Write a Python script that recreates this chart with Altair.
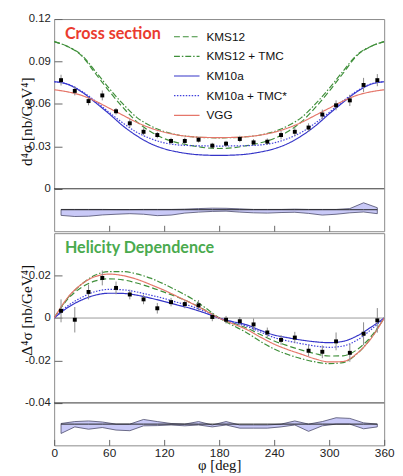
import altair as alt
import pandas as pd

# ---------------- data ----------------
phi_grid = [0, 15, 30, 45, 60, 75, 90, 105, 120, 135, 150, 165, 180,
            195, 210, 225, 240, 255, 270, 285, 300, 315, 330, 345, 360]
phi_bins = [7.5, 22.5, 37.5, 52.5, 67.5, 82.5, 97.5, 112.5, 127.5, 142.5, 157.5, 172.5,
            187.5, 202.5, 217.5, 232.5, 247.5, 262.5, 277.5, 292.5, 307.5, 322.5, 337.5, 352.5]

models = ["KMS12", "KMS12 + TMC", "KM10a", "KM10a + TMC*", "VGG"]
model_colors = ["#3f8f3a", "#3f8f3a", "#3434c8", "#4040dc", "#e5766a"]
model_dashes = [[6, 3], [6, 2, 1.5, 2], [1, 0], [1.5, 1.5], [1, 0]]
model_widths = [1.2, 1.2, 1.8, 1.4, 1.1]

# cross section curves
cs_curves = {
    "KMS12": [0.104, 0.1005, 0.094, 0.0815, 0.069, 0.0575, 0.0475, 0.0405, 0.0355, 0.0325, 0.0305, 0.029, 0.0285,
              0.029, 0.0305, 0.0325, 0.0355, 0.0405, 0.0475, 0.0575, 0.069, 0.0815, 0.094, 0.1005, 0.104],
    "KMS12 + TMC": [0.104, 0.1005, 0.0945, 0.083, 0.071, 0.060, 0.0505, 0.0445, 0.0405, 0.038, 0.0368, 0.0362, 0.036,
                    0.0362, 0.0368, 0.038, 0.0405, 0.0445, 0.0505, 0.060, 0.071, 0.083, 0.0945, 0.1005, 0.104],
    "KM10a": [0.0757, 0.0738, 0.0685, 0.061, 0.053, 0.0445, 0.0375, 0.032, 0.0283, 0.026, 0.0245, 0.0238, 0.0236,
              0.0238, 0.0245, 0.026, 0.0283, 0.032, 0.0375, 0.0445, 0.053, 0.061, 0.0685, 0.0738, 0.0757],
    "KM10a + TMC*": [0.0757, 0.074, 0.069, 0.062, 0.054, 0.0465, 0.040, 0.0355, 0.0325, 0.031, 0.0305, 0.0303, 0.0302,
                     0.0303, 0.0305, 0.031, 0.0325, 0.0355, 0.040, 0.0465, 0.054, 0.062, 0.069, 0.074, 0.0757],
    "VGG": [0.070, 0.0685, 0.066, 0.062, 0.057, 0.052, 0.047, 0.043, 0.040, 0.038, 0.0368, 0.0363, 0.0362,
            0.0363, 0.0368, 0.038, 0.040, 0.043, 0.047, 0.052, 0.057, 0.062, 0.066, 0.0685, 0.070],
}

# helicity-dependent curves
hel_curves = {
    "KMS12": [0, 0.0090, 0.0145, 0.0175, 0.0185, 0.0180, 0.0165, 0.0145, 0.0122, 0.0098, 0.0070, 0.0037, 0,
              -0.0023, -0.0047, -0.0078, -0.0108, -0.0131, -0.0151, -0.0168, -0.0179, -0.0178, -0.0150, -0.0090, 0],
    "KMS12 + TMC": [0, 0.0095, 0.0160, 0.0203, 0.0219, 0.0219, 0.0208, 0.0188, 0.0160, 0.0127, 0.0092, 0.0048, 0,
                    -0.0035, -0.0069, -0.0110, -0.0146, -0.0172, -0.0192, -0.0207, -0.0215, -0.0210, -0.0170, -0.0098, 0],
    "KM10a": [0, 0.0050, 0.0085, 0.0108, 0.0117, 0.0116, 0.0108, 0.0094, 0.0078, 0.0061, 0.0044, 0.0023, 0,
              -0.0017, -0.0032, -0.0058, -0.0080, -0.0093, -0.0104, -0.0112, -0.0116, -0.0110, -0.0085, -0.0045, 0],
    "KM10a + TMC*": [0, 0.0058, 0.0097, 0.0125, 0.0135, 0.0133, 0.0123, 0.0108, 0.0092, 0.0073, 0.0055, 0.0030, 0,
                     -0.0020, -0.0039, -0.0066, -0.0092, -0.0108, -0.0121, -0.0132, -0.0138, -0.0132, -0.0105, -0.0057, 0],
    "VGG": [0, 0.0098, 0.0160, 0.0196, 0.0207, 0.0200, 0.0183, 0.0158, 0.0131, 0.0100, 0.0069, 0.0035, 0,
            -0.0027, -0.0054, -0.0090, -0.0123, -0.0149, -0.0171, -0.0193, -0.0207, -0.0205, -0.0168, -0.0100, 0],
}

# data points
cs_vals = [0.0768, 0.0692, 0.0620, 0.0660, 0.0548, 0.0463, 0.0403, 0.0380, 0.0338, 0.0338, 0.0347, 0.0305,
           0.0319, 0.0352, 0.0328, 0.0333, 0.0380, 0.0403, 0.0433, 0.0525, 0.0590, 0.0625, 0.0734, 0.0768]
cs_errs = [0.0038, 0.0032, 0.0030, 0.0035, 0.0023, 0.0030, 0.0025, 0.0023, 0.0023, 0.0023, 0.0020, 0.0020,
           0.0020, 0.0023, 0.0023, 0.0023, 0.0030, 0.0030, 0.0030, 0.0035, 0.0035, 0.0040, 0.0050, 0.0043]
hel_vals = [0.0034, -0.0008, 0.0123, 0.0189, 0.0142, 0.0111, 0.0088, 0.0046, 0.0075, 0.0066, 0.0060, 0.0005,
            -0.0008, -0.0015, -0.0030, -0.0068, -0.0103, -0.0092, -0.0154, -0.0159, -0.0110, -0.0164, -0.0074, -0.0011]
hel_errs = [0.0054, 0.0060, 0.0035, 0.0035, 0.0030, 0.0023, 0.0023, 0.0025, 0.0020, 0.0020, 0.0025, 0.0020,
            0.0018, 0.0020, 0.0028, 0.0023, 0.0023, 0.0027, 0.0027, 0.0030, 0.0042, 0.0042, 0.0054, 0.0058]

# residual bands (lower parts of each panel)
cs_band_center = -0.0148
cs_band_hi = [-0.0146, -0.0146, -0.0146, -0.0146, -0.0147, -0.0147, -0.0146, -0.0146, -0.0146, -0.0144, -0.0140, -0.0137,
              -0.0138, -0.0142, -0.0146, -0.0146, -0.0146, -0.0144, -0.0146, -0.0146, -0.0146, -0.0140, -0.0099, -0.0134]
cs_band_lo = [-0.0188, -0.0196, -0.0194, -0.0185, -0.0180, -0.0176, -0.0180, -0.0190, -0.0186, -0.0172, -0.0165, -0.0160,
              -0.0158, -0.0165, -0.0170, -0.0172, -0.0168, -0.0166, -0.0174, -0.0186, -0.0180, -0.0170, -0.0164, -0.0176]
hel_band_center = -0.0500
hel_band_hi = [-0.0497, -0.0488, -0.0485, -0.0490, -0.0500, -0.0500, -0.0478, -0.0488, -0.0497, -0.0500, -0.0488, -0.0504,
               -0.0488, -0.0504, -0.0504, -0.0504, -0.0500, -0.0485, -0.0500, -0.0488, -0.0470, -0.0473, -0.0494, -0.0500]
hel_band_lo = [-0.0544, -0.0513, -0.0524, -0.0516, -0.0528, -0.0531, -0.0508, -0.0507, -0.0504, -0.0508, -0.0504, -0.0513,
               -0.0504, -0.0519, -0.0519, -0.0519, -0.0513, -0.0504, -0.0534, -0.0508, -0.0500, -0.0500, -0.0522, -0.0513]

# ---------------- tables ----------------
def curve_table(curves):
    rows = []
    for m in models:
        for p, v in zip(phi_grid, curves[m]):
            rows.append({"phi": p, "val": v, "model": m})
    return pd.DataFrame(rows)

cs_df = curve_table(cs_curves)
hel_df = curve_table(hel_curves)
cs_pts = pd.DataFrame({"phi": phi_bins, "val": cs_vals,
                       "lo": [v - e for v, e in zip(cs_vals, cs_errs)],
                       "hi": [v + e for v, e in zip(cs_vals, cs_errs)]})
hel_pts = pd.DataFrame({"phi": phi_bins, "val": hel_vals,
                        "lo": [v - e for v, e in zip(hel_vals, hel_errs)],
                        "hi": [v + e for v, e in zip(hel_vals, hel_errs)]})
cs_band = pd.DataFrame({"phi": phi_bins, "lo": cs_band_lo, "hi": cs_band_hi,
                        "c": [cs_band_center] * len(phi_bins)})
hel_band = pd.DataFrame({"phi": phi_bins, "lo": hel_band_lo, "hi": hel_band_hi,
                         "c": [hel_band_center] * len(phi_bins)})

W, H = 336, 216
LABEL_FONT = "Liberation Sans"
SERIF = "Liberation Serif"

xs = alt.Scale(domain=[0, 360], nice=False, zero=False)


def panel(curves_df, pts_df, band_df, ydomain, yvalues, ytitle, title_y, xaxis, show_legend,
          rules, label_text, label_color):
    ys = alt.Scale(domain=ydomain, nice=False, zero=False)
    yaxis = alt.Axis(values=yvalues, labelExpr="'' + datum.value", tickSize=8, offset=-8,
                     domain=False, grid=False, labelPadding=4, labelFontSize=11.5,
                     title=ytitle, titleX=-36, titleY=title_y, titleBaseline="middle",
                     titleAlign="center",
                     titleFont=SERIF, titleFontSize=15.5, titleFontWeight="normal",
                     titleColor="#111")
    if show_legend:
        leg = alt.Legend(orient="none", legendX=121, legendY=4, title=None, symbolType="stroke",
                         symbolSize=676, labelFont=LABEL_FONT, labelFontSize=12, labelOffset=6,
                         rowPadding=-5, padding=0, labelColor="#111")
    else:
        leg = None
    dom = models
    color = alt.Color("model:N", scale=alt.Scale(domain=dom, range=model_colors), legend=leg)
    dash = alt.StrokeDash("model:N", scale=alt.Scale(domain=dom, range=model_dashes), legend=leg)
    sw = alt.StrokeWidth("model:N", scale=alt.Scale(domain=dom, range=model_widths), legend=leg)

    base_x = alt.X("phi:Q", scale=xs, axis=xaxis)

    band = alt.Chart(band_df).mark_area(fill="#c9c9f7", stroke="#4a4a6a", strokeWidth=0.8).encode(
        x=base_x, y=alt.Y("lo:Q", scale=ys, axis=yaxis), y2="hi:Q")
    band_line = alt.Chart(band_df).mark_line(color="#222", strokeWidth=1).encode(
        x="phi:Q", y="c:Q")
    rule_layers = []
    for val, col in rules:
        rule_layers.append(alt.Chart(pd.DataFrame({"v": [val]})).mark_rule(color=col, strokeWidth=1).encode(
            y=alt.Y("v:Q", scale=ys)))
    lines = alt.Chart(curves_df).mark_line(interpolate="monotone", clip=True).encode(
        x="phi:Q", y="val:Q", color=color, strokeDash=dash, strokeWidth=sw, detail="model:N")
    err = alt.Chart(pts_df).mark_rule(color="#8a8a8a", strokeWidth=1).encode(
        x="phi:Q", y="lo:Q", y2="hi:Q")
    pts = alt.Chart(pts_df).mark_square(size=16, color="black", opacity=1).encode(
        x="phi:Q", y="val:Q")
    txt = alt.Chart(pd.DataFrame({"t": [label_text]})).mark_text(
        align="left", baseline="alphabetic", font="Lato", fontWeight="bold", fontSize=16.4,
        color=label_color).encode(x=alt.value(11), y=alt.value(20), text="t:N")
    return alt.layer(band, band_line, *rule_layers, lines, err, pts, txt).properties(width=W, height=H)


top_xaxis = alt.Axis(values=[60, 120, 180, 240, 300], labels=False, tickSize=6, offset=-6,
                     domain=False, grid=False, title=None)
bot_xaxis = alt.Axis(values=[0, 60, 120, 180, 240, 300, 360], tickSize=6, offset=-6,
                     domain=False, grid=False, labelPadding=2, labelFlush=False, labelFontSize=12,
                     title="φ  [deg]", titleFont=SERIF, titleFontSize=15, titleFontWeight="normal",
                     titlePadding=0, titleColor="#111")

top = panel(cs_df, cs_pts, cs_band, [-0.03, 0.12], [0, 0.03, 0.06, 0.09, 0.12],
            "d⁴σ  [nb/GeV⁴]", 104, top_xaxis, True, [(0, "#333")], "Cross section", "#ea3b2e")
bottom = panel(hel_df, hel_pts, hel_band, [-0.06, 0.04], [-0.04, -0.02, 0, 0.02],
               "Δ⁴σ  [nb/GeV⁴]", 78, bot_xaxis, False, [(0, "#9a9a9a"), (-0.04, "#333")],
               "Helicity Dependence", "#4aaa4e")

chart = alt.vconcat(top, bottom, spacing=0).resolve_scale(
    y="independent").resolve_legend(color="independent", strokeDash="independent",
                                    strokeWidth="independent").properties(
    padding={"left": 11, "top": 0, "right": 0, "bottom": 0}
).configure_view(stroke="#8a8a8a", strokeWidth=1).configure_axis(
    labelFont=LABEL_FONT, labelColor="#222", tickColor="#666")

chart.save("out.html", embed_options={"renderer": "svg", "actions": False})
